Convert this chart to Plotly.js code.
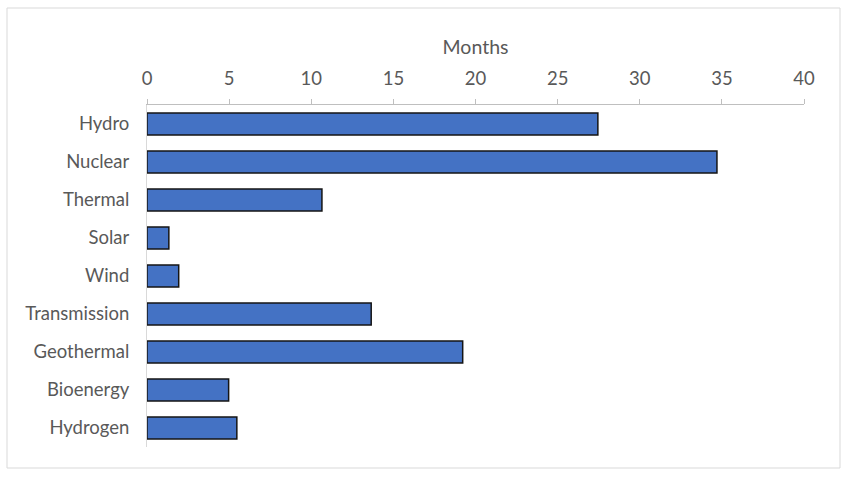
<!DOCTYPE html>
<html>
<head>
<meta charset="utf-8">
<script src="https://cdn.plot.ly/plotly-3.0.1.min.js"></script>
<style>
html,body{margin:0;padding:0;background:#fff;}
#chart{width:848px;height:477px;}
</style>
</head>
<body>
<div id="chart"></div>
<script>
const categories = ["Hydro","Nuclear","Thermal","Solar","Wind","Transmission","Geothermal","Bioenergy","Hydrogen"];
const months = [27.45, 34.7, 10.65, 1.33, 1.93, 13.65, 19.22, 4.97, 5.47];
const xTicks = [0,5,10,15,20,25,30,35,40];

const trace = {
  type: 'bar',
  orientation: 'h',
  y: categories,
  x: months,
  marker: {color: '#4472C4', line: {color: '#141414', width: 1.5}},
  hoverinfo: 'x+y'
};

const W = 848, H = 477;
const L = 147, R = 44, T = 105, B = 30;
const pw = W - L - R, ph = H - T - B;

const layout = {
  width: W, height: H,
  margin: {l: L, r: R, t: T, b: B, pad: 0},
  paper_bgcolor: '#ffffff',
  plot_bgcolor: '#ffffff',
  showlegend: false,
  bargap: 0.42,
  font: {family: 'Lato, "Open Sans", sans-serif', color: '#595959', size: 18},
  xaxis: {
    side: 'top',
    range: [0, 40],
    tickvals: xTicks,
    ticktext: xTicks.map(String),
    showgrid: false,
    zeroline: false,
    showline: true,
    linecolor: '#bfbfbf',
    linewidth: 1,
    ticks: 'outside',
    ticklen: 5,
    tickcolor: '#bfbfbf',
    ticklabelstandoff: 7,
    tickfont: {size: 18.5, color: '#595959'},
    title: {text: 'Months', font: {size: 19.5, color: '#595959'}, standoff: 6},
    fixedrange: true
  },
  yaxis: {
    autorange: 'reversed',
    showgrid: false,
    zeroline: false,
    showline: true,
    linecolor: '#d9d9d9',
    linewidth: 1,
    ticks: '',
    ticklabelstandoff: 13,
    tickfont: {size: 18.5, color: '#595959'},
    fixedrange: true
  },
  shapes: [{
    type: 'rect', xref: 'paper', yref: 'paper',
    x0: (7 - L) / pw, x1: (840 - L) / pw,
    y0: (H - B - 468) / ph, y1: (H - B - 8) / ph,
    line: {color: '#d9d9d9', width: 1},
    fillcolor: 'rgba(0,0,0,0)',
    layer: 'below'
  }]
};

Plotly.newPlot('chart', [trace], layout, {displayModeBar: false, staticPlot: true});
</script>
</body>
</html>
